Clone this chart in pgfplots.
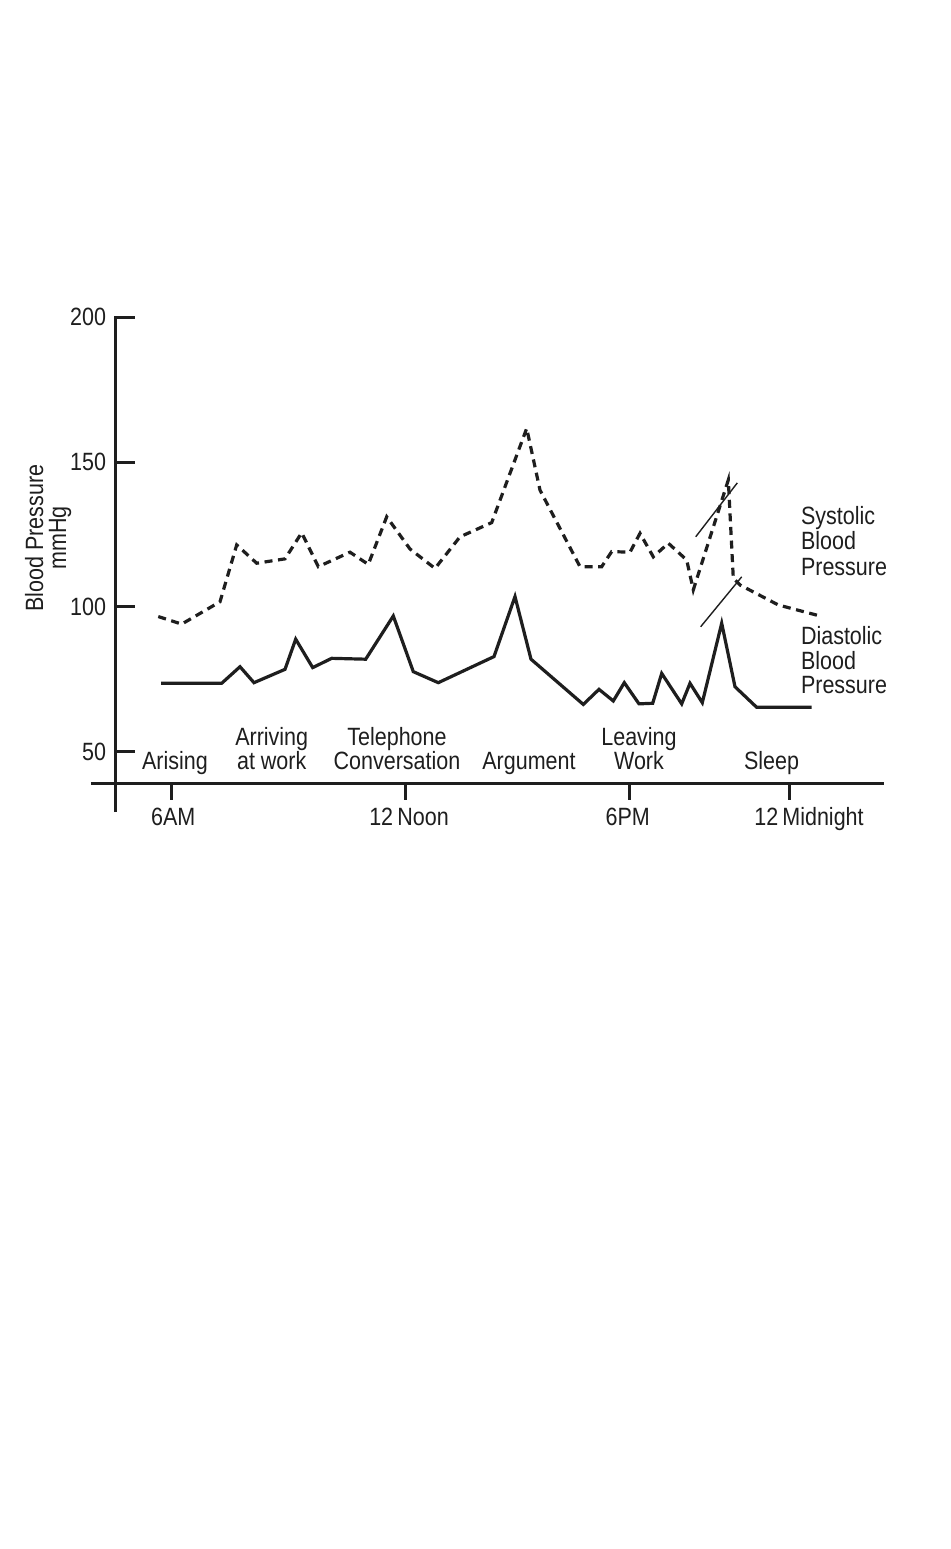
\documentclass[border=0pt]{standalone}
\usepackage{fontspec}
\setmainfont{Liberation Sans}[FakeStretch=0.86]
\usepackage{pgfplots}
\pgfplotsset{compat=1.18}
\definecolor{ink}{HTML}{1E1E1E}
\tikzset{lbl/.style={text=ink, font=\fontsize{12.5}{14}\selectfont, inner sep=0pt, outer sep=0pt}}

\pgfplotstableread{
x y
158.3 96.7
181.7 94.1
220.0 101.8
236.7 121.4
256.7 115.1
285.0 116.6
301.7 125.6
318.3 113.9
350.0 118.9
368.3 114.7
386.7 131.1
410.0 120.0
435.0 113.3
460.0 124.2
491.7 129.1
526.7 161.6
540.0 140.3
580.0 113.9
601.7 113.9
611.7 119.1
630.0 118.9
640.0 125.4
653.3 117.3
668.3 122.0
686.7 116.2
693.3 105.9
728.3 143.8
733.3 109.9
740.0 107.6
778.3 100.7
820.0 96.9
}\systolic

\pgfplotstableread{
x y
161.0 73.7
221.7 73.7
240.0 79.4
254.0 73.9
285.0 78.5
295.7 88.9
312.7 79.1
331.7 82.3
365.7 82.0
393.3 96.9
413.3 77.7
438.3 73.9
494.0 82.9
515.0 103.6
531.0 82.0
583.3 66.4
599.0 71.6
613.3 67.6
624.3 73.9
639.0 66.6
652.7 66.8
661.7 77.1
681.7 66.6
690.0 73.7
702.3 67.0
721.7 94.4
735.0 72.5
756.7 65.4
811.7 65.4
}\diastolic

\begin{document}
\begin{tikzpicture}
\path[use as bounding box] (0pt,0pt) rectangle (475pt,-774.5pt);
\begin{axis}[
  at={(45.5pt,-406pt)}, anchor=south west,
  scale only axis, width=396.5pt, height=247.5pt,
  xmin=91, xmax=884, ymin=29.3, ymax=200,
  axis lines=none, clip=false,
]
% axes
\draw[ink, line width=1.5pt] (axis cs:116,29.3) -- (axis cs:116,200.4);
\draw[ink, line width=1.5pt] (axis cs:91,39.2) -- (axis cs:884,39.2);
% y ticks
\draw[ink, line width=1.5pt] (axis cs:116,50) -- (axis cs:135,50);
\draw[ink, line width=1.5pt] (axis cs:116,100) -- (axis cs:135,100);
\draw[ink, line width=1.5pt] (axis cs:116,150) -- (axis cs:135,150);
\draw[ink, line width=1.5pt] (axis cs:116,200) -- (axis cs:135,200);
\node[lbl, anchor=east] at (axis cs:106,200) {200};
\node[lbl, anchor=east] at (axis cs:106,150) {150};
\node[lbl, anchor=east] at (axis cs:106,100) {100};
\node[lbl, anchor=east] at (axis cs:106,50) {50};
% x ticks
\draw[ink, line width=1.5pt] (axis cs:171,39.2) -- (axis cs:171,33.6);
\draw[ink, line width=1.5pt] (axis cs:405,39.2) -- (axis cs:405,33.6);
\draw[ink, line width=1.5pt] (axis cs:629,39.2) -- (axis cs:629,33.6);
\draw[ink, line width=1.5pt] (axis cs:789,39.2) -- (axis cs:789,33.6);
\node[lbl, anchor=base] at (axis cs:173.3,24.8) {6AM};
\node[lbl, anchor=base] at (axis cs:409,24.8) {12\,Noon};
\node[lbl, anchor=base] at (axis cs:627.7,24.8) {6PM};
\node[lbl, anchor=base] at (axis cs:809,24.8) {12\,Midnight};
% y label
\node[lbl, rotate=90, anchor=base] at (axis cs:43,123.8) {Blood Pressure};
\node[lbl, rotate=90, anchor=base] at (axis cs:66,123.8) {mmHg};
% event labels
\node[lbl, anchor=base] at (axis cs:175,44.1) {Arising};
\node[lbl, anchor=base] at (axis cs:271.7,52.1) {Arriving};
\node[lbl, anchor=base] at (axis cs:271.7,44.1) {at work};
\node[lbl, anchor=base] at (axis cs:397,52.1) {Telephone};
\node[lbl, anchor=base] at (axis cs:397,44.1) {Conversation};
\node[lbl, anchor=base] at (axis cs:529,44.1) {Argument};
\node[lbl, anchor=base] at (axis cs:639,52.1) {Leaving};
\node[lbl, anchor=base] at (axis cs:639,44.1) {Work};
\node[lbl, anchor=base] at (axis cs:771.5,44.1) {Sleep};
% series labels
\node[lbl, anchor=base west] at (axis cs:801,128.3) {Systolic};
\node[lbl, anchor=base west] at (axis cs:801,119.7) {Blood};
\node[lbl, anchor=base west] at (axis cs:801,111.0) {Pressure};
\node[lbl, anchor=base west] at (axis cs:801,87.2) {Diastolic};
\node[lbl, anchor=base west] at (axis cs:801,78.6) {Blood};
\node[lbl, anchor=base west] at (axis cs:801,70.0) {Pressure};
% annotation strokes
\draw[ink, line width=0.7pt] (axis cs:695.7,124.2) -- (axis cs:737.3,142.8);
\draw[ink, line width=0.7pt] (axis cs:700.7,93.2) -- (axis cs:741.7,110.4);
% data
\addplot[ink, line width=1.6pt, line join=miter, line cap=butt, dash pattern=on 4pt off 2.8pt] table[x=x,y=y] {\systolic};
\addplot[ink, line width=1.6pt, line join=miter] table[x=x,y=y] {\diastolic};
\end{axis}
\end{tikzpicture}
\end{document}
